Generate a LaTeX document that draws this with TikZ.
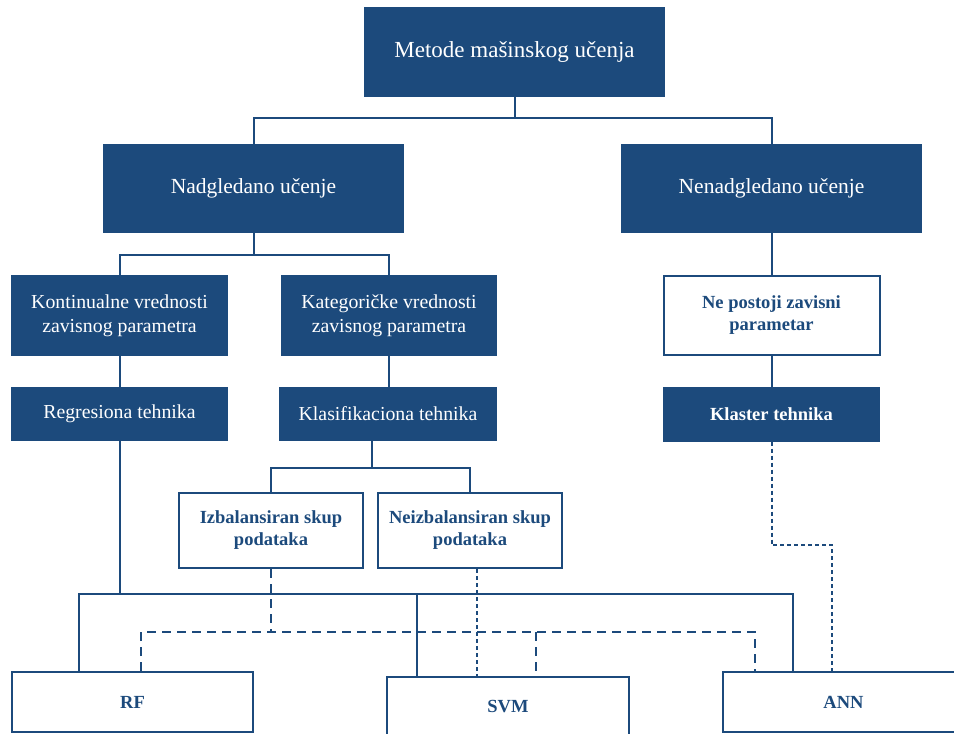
\documentclass[tikz,border=0pt]{standalone}
\usepackage{fontspec}
\setmainfont{Liberation Serif}
\definecolor{navy}{RGB}{28,74,124}

\tikzset{
  solidbox/.style={draw=navy, fill=navy, text=white, line width=1.2pt,
    inner sep=0pt, align=center},
  openbox/.style={draw=navy, fill=white, text=navy, line width=2pt,
    inner sep=0pt, align=center,
    font=\fontsize{18.5}{22}\selectfont\bfseries},
  link/.style={draw=navy, line width=2pt},
  dashlink/.style={link, dash pattern=on 9pt off 6pt},
  dotlink/.style={link, dash pattern=on 4pt off 3pt},
  fbig/.style={font=\fontsize{23}{27}\selectfont},
  fmid/.style={font=\fontsize{21.5}{25}\selectfont},
  fsmall/.style={font=\fontsize{19.8}{24}\selectfont},
}

\begin{document}
\begin{tikzpicture}[x=1pt, y=-1pt]
  \path[use as bounding box, clip] (0,0) rectangle (954,734);
  \fill[white] (0,0) rectangle (954,734);

  % root and the two main branches
  \node[solidbox, fbig, minimum width=299pt, minimum height=88pt] (root) at (514.5,52) {Metode mašinskog učenja};
  \node[solidbox, fmid, minimum width=299pt, minimum height=87pt] (sup) at (253.5,188.5) {Nadgledano učenje};
  \node[solidbox, fmid, minimum width=299pt, minimum height=87pt] (unsup) at (771.5,188.5) {Nenadgledano učenje};

  % third level
  \node[solidbox, fsmall, minimum width=215pt, minimum height=79pt] (kont) at (119.5,315.5) {Kontinualne vrednosti\\zavisnog parametra};
  \node[solidbox, fsmall, minimum width=215pt, minimum height=79pt] (kat) at (389,315.5) {Kategoričke vrednosti\\zavisnog parametra};
  \node[openbox, minimum width=216pt, minimum height=79pt] (nep) at (771.5,315.5) {Ne postoji zavisni\\parametar};

  % techniques
  \node[solidbox, fsmall, minimum width=215pt, minimum height=52pt] (regr) at (119.5,414) {Regresiona tehnika};
  \node[solidbox, fsmall, minimum width=216pt, minimum height=52pt] (klas) at (388,414) {Klasifikaciona tehnika};
  \node[solidbox, font=\fontsize{18.5}{22}\selectfont\bfseries, minimum width=216pt, minimum height=53pt] (klast) at (771.5,414.5) {Klaster tehnika};

  % data sets
  \node[openbox, minimum width=184pt, minimum height=75pt] (izb) at (271,530.5) {Izbalansiran skup\\podataka};
  \node[openbox, minimum width=184pt, minimum height=75pt] (neizb) at (470,530.5) {Neizbalansiran skup\\podataka};

  % algorithms
  \node[openbox, minimum width=241pt, minimum height=60pt] (rf) at (132.5,702) {RF};
  \node[openbox, minimum width=242pt, minimum height=60pt] (svm) at (508,707) {SVM};
  \node[openbox, minimum width=241pt, minimum height=60pt] (ann) at (843.5,702) {ANN};

  % junction points
  \coordinate (j1) at (514.5,118);
  \coordinate (j2) at (253.5,255);
  \coordinate (j3) at (371.5,468);
  \coordinate (sl) at (79,594);
  \coordinate (sr) at (793,594);
  \coordinate (sm) at (417,594);
  \coordinate (dl) at (141,632);
  \coordinate (dr) at (755,632);
  \coordinate (dm) at (536,632);
  \coordinate (p1) at (477,0);
  \coordinate (k2) at (832,545);

  % tree connectors
  \draw[link] (root.south) -- (j1);
  \draw[link] (sup.north) |- (j1) -| (unsup.north);
  \draw[link] (sup.south) -- (j2);
  \draw[link] (kont.north) |- (j2) -| (kat.north);
  \draw[link] (unsup.south) -- (nep.north);
  \draw[link] (nep.south) -- (klast.north);
  \draw[link] (kont.south) -- (regr.north);
  \draw[link] (kat.south) -- (kat.south |- klas.north);
  \draw[link] (j3 |- klas.south) -- (j3);
  \draw[link] (izb.north) |- (j3) -| (neizb.north);

  % regression technique to all algorithms
  \draw[link] (regr.south) -- (regr.south |- sl);
  \draw[link] (rf.north -| sl) |- (sr) -- (ann.north -| sr);
  \draw[link] (sm) -- (svm.north -| sm);

  % balanced data set (dashed)
  \draw[dashlink] (izb.south) -- (izb.south |- dl);
  \draw[dashlink] (rf.north -| dl) |- (dr) -- (ann.north -| dr);
  \draw[dashlink] (dm) -- (svm.north -| dm);

  % unbalanced data set and clustering (dotted)
  \draw[dotlink] (neizb.south -| p1) -- (svm.north -| p1);
  \draw[dotlink] (klast.south) |- (k2) -- (ann.north -| k2);
\end{tikzpicture}
\end{document}
